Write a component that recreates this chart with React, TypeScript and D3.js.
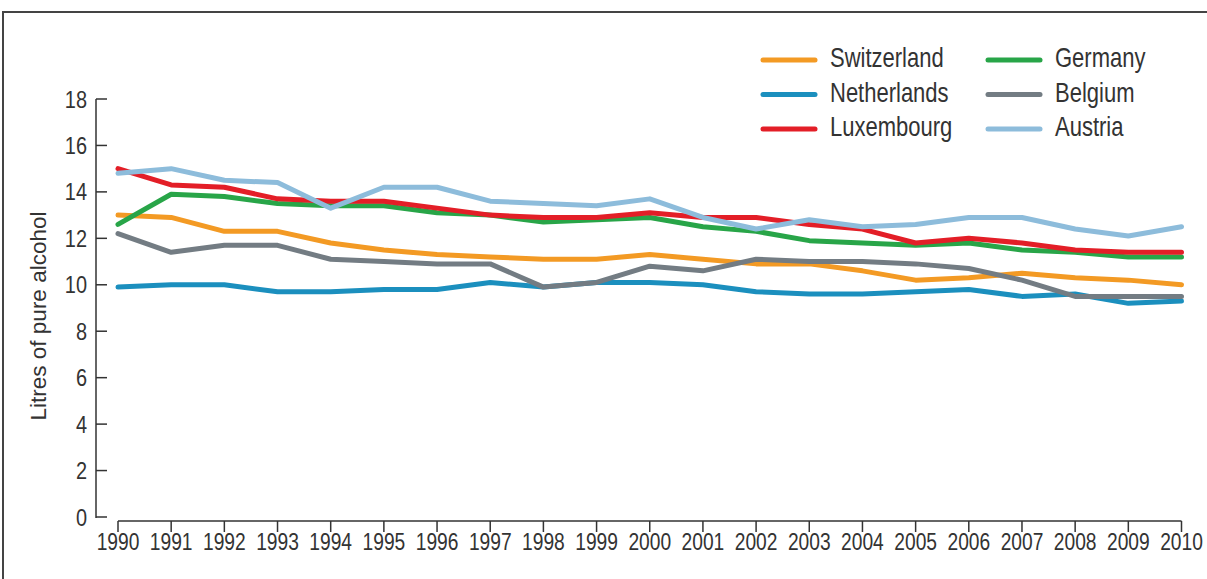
import React from 'react';
import * as d3 from 'd3';

const years = [1990, 1991, 1992, 1993, 1994, 1995, 1996, 1997, 1998, 1999, 2000, 2001, 2002, 2003, 2004, 2005, 2006, 2007, 2008, 2009, 2010];
const yTicks = [0, 2, 4, 6, 8, 10, 12, 14, 16, 18];

const switzerland = [13.0, 12.9, 12.3, 12.3, 11.8, 11.5, 11.3, 11.2, 11.1, 11.1, 11.3, 11.1, 10.9, 10.9, 10.6, 10.2, 10.3, 10.5, 10.3, 10.2, 10.0];
const netherlands = [9.9, 10.0, 10.0, 9.7, 9.7, 9.8, 9.8, 10.1, 9.9, 10.1, 10.1, 10.0, 9.7, 9.6, 9.6, 9.7, 9.8, 9.5, 9.6, 9.2, 9.3];
const luxembourg = [15.0, 14.3, 14.2, 13.7, 13.6, 13.6, 13.3, 13.0, 12.9, 12.9, 13.1, 12.9, 12.9, 12.6, 12.4, 11.8, 12.0, 11.8, 11.5, 11.4, 11.4];
const germany = [12.6, 13.9, 13.8, 13.5, 13.4, 13.4, 13.1, 13.0, 12.7, 12.8, 12.9, 12.5, 12.3, 11.9, 11.8, 11.7, 11.8, 11.5, 11.4, 11.2, 11.2];
const belgium = [12.2, 11.4, 11.7, 11.7, 11.1, 11.0, 10.9, 10.9, 9.9, 10.1, 10.8, 10.6, 11.1, 11.0, 11.0, 10.9, 10.7, 10.2, 9.5, 9.5, 9.5];
const austria = [14.8, 15.0, 14.5, 14.4, 13.3, 14.2, 14.2, 13.6, 13.5, 13.4, 13.7, 12.9, 12.4, 12.8, 12.5, 12.6, 12.9, 12.9, 12.4, 12.1, 12.5];

// legend order (two columns of three)
const series = [
    { name: 'Switzerland', color: '#f39a24', values: switzerland },
    { name: 'Netherlands', color: '#1b8fbe', values: netherlands },
    { name: 'Luxembourg', color: '#e31e27', values: luxembourg },
    { name: 'Germany', color: '#28a548', values: germany },
    { name: 'Belgium', color: '#737c83', values: belgium },
    { name: 'Austria', color: '#8dbcdb', values: austria },
];
// order the lines are painted in
const drawOrder = ['Netherlands', 'Switzerland', 'Germany', 'Luxembourg', 'Belgium', 'Austria'];

const FONT = '"Liberation Sans", Arial, sans-serif';
const INK = '#333';

// no condensed font installed, so squeeze it horizontally
const Label = ({ x, y, sx = 0.82, size, anchor = 'start', children }: any) => (
    <text
        transform={`translate(${x},${y}) scale(${sx},1)`}
        textAnchor={anchor}
        fontFamily={FONT}
        fontSize={size}
        fill={INK}
    >{children}</text>
);

export default function App() {
    const width = 1207;
    const height = 579;

    const x = d3.scaleLinear().domain([1990, 2010]).range([118, 1181.5]);
    const y = d3.scaleLinear().domain([0, 18]).range([517, 99]);

    const line = d3.line<number>()
        .x((d, i) => x(years[i]))
        .y(d => y(d));

    return (
        <svg width={width} height={height} style={{ position: 'absolute', left: 0, top: 0, background: '#fff' }}>
            {/* frame */}
            <path d={`M3,${height} V12 H${width}`} fill="none" stroke="#444" strokeWidth={2} />

            {/* y axis */}
            <line x1={96} x2={96} y1={y(18)} y2={y(0) + 1} stroke={INK} strokeWidth={1.5} />
            {yTicks.map(t => (
                <g key={t}>
                    <line x1={96} x2={107} y1={y(t)} y2={y(t)} stroke={INK} strokeWidth={1.5} />
                    <Label x={87} y={y(t) + 8.5} sx={0.83} size={24} anchor="end">{t}</Label>
                </g>
            ))}
            <text
                transform={`translate(46,${(y(0) + y(18)) / 2 + 8}) rotate(-90)`}
                textAnchor="middle"
                fontFamily={FONT}
                fontSize={22.5}
                fill={INK}
            >Litres of pure alcohol</text>

            {/* x axis */}
            <line x1={x(1990)} x2={x(2010)} y1={521} y2={521} stroke={INK} strokeWidth={1.5} />
            {years.map(yr => (
                <g key={yr}>
                    <line x1={x(yr)} x2={x(yr)} y1={521} y2={532} stroke={INK} strokeWidth={1.5} />
                    <Label x={x(yr)} y={549.5} sx={0.8} size={24} anchor="middle">{yr}</Label>
                </g>
            ))}

            {/* lines */}
            {drawOrder.map(name => {
                const s = series.find(d => d.name === name)!;
                return (
                    <path
                        key={name}
                        d={line(s.values) || ''}
                        fill="none"
                        stroke={s.color}
                        strokeWidth={5}
                        strokeLinejoin="round"
                        strokeLinecap="round"
                    />
                );
            })}

            {/* legend */}
            {series.map((s, i) => {
                const col = Math.floor(i / 3);
                const row = i % 3;
                const lx = col === 0 ? 763 : 988;
                const ly = 60 + row * 34.5;
                return (
                    <g key={s.name}>
                        <line x1={lx} x2={lx + 52} y1={ly} y2={ly} stroke={s.color} strokeWidth={5} strokeLinecap="round" />
                        <Label x={lx + 67} y={ly + 7} sx={0.8} size={27.5}>{s.name}</Label>
                    </g>
                );
            })}
        </svg>
    );
}
